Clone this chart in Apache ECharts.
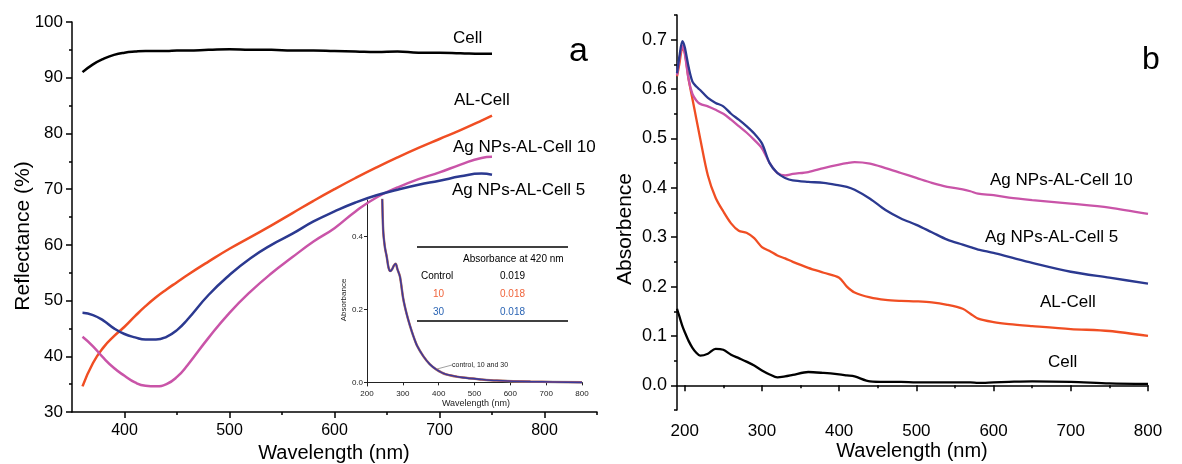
<!DOCTYPE html>
<html>
<head>
<meta charset="utf-8">
<script src="https://cdn.jsdelivr.net/npm/echarts@6/dist/echarts.min.js"></script>
<style>
  html, body { margin: 0; padding: 0; background: #fff; }
  #graph { width: 1182px; height: 464px; }
</style>
</head>
<body>
<div id="graph"></div>
<script>
// panel a - reflectance
const wlA = [360,370,380,390,400,410,420,430,440,450,460,480,500,520,540,560,580,600,620,640,660,680,700,720,740,750];
const cellA = [91.0,92.4,93.4,94.1,94.5,94.7,94.8,94.8,94.8,94.9,94.9,95.0,95.1,95.0,95.0,94.9,94.9,94.8,94.7,94.6,94.7,94.5,94.5,94.4,94.3,94.3];
const alCellA = [34.6,38.8,41.6,43.6,45.3,47.2,49.0,50.6,52.0,53.3,54.6,57.0,59.3,61.4,63.5,65.7,67.9,70.0,72.0,73.9,75.7,77.4,79.0,80.6,82.3,83.2];
const ag10A = [43.5,41.8,39.7,37.9,36.5,35.3,34.7,34.6,35.0,36.3,38.4,43.3,47.8,51.6,54.9,57.8,60.6,63.0,66.0,68.5,70.3,71.8,73.0,74.4,75.6,75.8];
const ag5A = [47.8,47.4,46.4,45.0,44.0,43.4,43.0,43.0,43.5,44.7,46.6,51.0,54.6,57.6,60.0,62.0,64.2,66.0,67.6,68.9,69.9,70.8,71.5,72.3,72.8,72.6];

// panel b - absorbance
const wlB = [190,193,197,200,205,210,215,220,230,240,250,260,270,280,290,300,310,320,330,340,360,380,400,410,420,440,460,480,500,520,540,560,570,580,600,620,650,700,750,800];
const cellB = [0.155,0.14,0.12,0.108,0.09,0.076,0.066,0.06,0.064,0.074,0.072,0.062,0.055,0.048,0.04,0.03,0.022,0.016,0.018,0.021,0.027,0.025,0.022,0.02,0.018,0.008,0.007,0.007,0.006,0.006,0.006,0.006,0.006,0.005,0.006,0.007,0.008,0.007,0.004,0.003];
const alCellB = [0.626,0.65,0.682,0.675,0.62,0.58,0.54,0.5,0.425,0.38,0.352,0.328,0.313,0.309,0.298,0.28,0.272,0.263,0.257,0.25,0.238,0.228,0.218,0.2,0.188,0.178,0.173,0.171,0.17,0.168,0.163,0.155,0.145,0.135,0.128,0.124,0.12,0.114,0.11,0.1];
const ag5B = [0.632,0.665,0.697,0.685,0.645,0.615,0.605,0.598,0.582,0.572,0.565,0.55,0.538,0.525,0.51,0.49,0.45,0.43,0.42,0.415,0.412,0.41,0.405,0.402,0.396,0.378,0.355,0.338,0.325,0.31,0.295,0.285,0.28,0.275,0.268,0.26,0.248,0.23,0.218,0.206];
const ag10B = [0.628,0.66,0.688,0.672,0.62,0.59,0.577,0.57,0.565,0.558,0.55,0.538,0.525,0.512,0.497,0.48,0.45,0.43,0.425,0.428,0.432,0.44,0.447,0.45,0.452,0.449,0.44,0.43,0.42,0.41,0.402,0.397,0.393,0.388,0.385,0.38,0.375,0.368,0.36,0.347];

// inset - absorbance of control, 10 and 30
const wlInset = [240,245,250,255,260,265,270,275,280,285,292,301,310,320,330,340,357,375,394,420,468,520,562,656,800];
const absInset = [0.62,0.42,0.37,0.345,0.315,0.305,0.31,0.32,0.325,0.31,0.29,0.23,0.19,0.155,0.125,0.1,0.072,0.05,0.035,0.022,0.013,0.008,0.005,0.002,0.0];

const ticksAx = [400,500,600,700,800];
const minorAx = [450,550,650,750,850];
const ticksBx = [200,300,400,500,600,700,800];
const minorBx = [250,350,450,550,650,750];
const ticksBy = [0,0.1,0.2,0.3,0.4,0.5,0.6,0.7];
const minorBy = [-0.05,0.05,0.15,0.25,0.35,0.45,0.55,0.65,0.75];

function zip(xs, ys) {
  return xs.map((x, i) => [x, ys[i]]);
}

const FONT = 'Arial, "Liberation Sans", sans-serif';
const black = '#000';
const orange = '#f04e23';
const blue = '#2b3990';
const pink = '#c954a8';

var chartDom = document.getElementById('graph');
var myChart = echarts.init(chartDom);
var option;

function lineStyle() {
  return { show: true, lineStyle: { color: black, width: 1.5 } };
}

function minorAxis(grid, min, max, values, horizontal) {
  return {
    type: 'value', gridIndex: grid, min: min, max: max,
    position: horizontal ? 'bottom' : 'left',
    axisLine: { show: false },
    axisTick: { show: true, customValues: values, length: 3, inside: false, lineStyle: { color: black, width: 1.5 } },
    axisLabel: { show: false },
    splitLine: { show: false }
  };
}

option = {
  animation: false,
  backgroundColor: '#fff',
  textStyle: { fontFamily: FONT },
  grid: [
    { left: 72, top: 22, width: 525, height: 390 },
    { left: 677, top: 15, width: 471, height: 395 },
    { left: 367, top: 200, width: 215, height: 186 }
  ],
  xAxis: [
    {
      type: 'value', gridIndex: 0, min: 350, max: 850,
      axisLine: lineStyle(),
      axisTick: { show: true, customValues: ticksAx, length: 6, lineStyle: { color: black, width: 1.5 } },
      axisLabel: { customValues: ticksAx, color: black, fontSize: 16, margin: 11, fontFamily: FONT },
      splitLine: { show: false }
    },
    {
      type: 'value', gridIndex: 1, min: 190, max: 800,
      axisLine: lineStyle(),
      axisTick: { show: true, customValues: ticksBx, length: 6, lineStyle: { color: black, width: 1.5 } },
      axisLabel: { customValues: ticksBx, color: black, fontSize: 17, margin: 13, fontFamily: FONT },
      splitLine: { show: false }
    },
    {
      type: 'value', gridIndex: 2, min: 200, max: 800, interval: 100,
      axisLine: { show: true, lineStyle: { color: '#222', width: 1 } },
      axisTick: { show: true, length: 3, lineStyle: { color: '#222', width: 1 } },
      axisLabel: { color: '#222', fontSize: 8, margin: 4, fontFamily: FONT },
      splitLine: { show: false }
    },
    minorAxis(0, 350, 850, minorAx, true),
    minorAxis(1, 190, 800, minorBx, true)
  ],
  yAxis: [
    {
      type: 'value', gridIndex: 0, min: 30, max: 100, interval: 10,
      axisLine: lineStyle(),
      axisTick: { show: true, length: 6, lineStyle: { color: black, width: 1.5 } },
      minorTick: { show: true, splitNumber: 2, length: 3, lineStyle: { color: black, width: 1.5 } },
      axisLabel: { color: black, fontSize: 17, margin: 9, fontFamily: FONT },
      splitLine: { show: false }
    },
    {
      type: 'value', gridIndex: 1, min: -0.05, max: 0.75,
      axisLine: lineStyle(),
      axisTick: { show: true, customValues: ticksBy, length: 6, lineStyle: { color: black, width: 1.5 } },
      axisLabel: { customValues: ticksBy, color: black, fontSize: 18, margin: 10, fontFamily: FONT,
        formatter: v => v.toFixed(1) },
      splitLine: { show: false }
    },
    {
      type: 'value', gridIndex: 2, min: -0.01, max: 0.5,
      axisLine: { show: true, lineStyle: { color: '#222', width: 1 } },
      axisTick: { show: true, customValues: [0, 0.2, 0.4], length: 3, lineStyle: { color: '#222', width: 1 } },
      axisLabel: { customValues: [0, 0.2, 0.4], color: '#222', fontSize: 8, margin: 4, fontFamily: FONT,
        formatter: v => v.toFixed(1) },
      splitLine: { show: false }
    },
    minorAxis(1, -0.05, 0.75, minorBy, false)
  ],
  series: [
    { name: 'Cell', type: 'line', xAxisIndex: 0, yAxisIndex: 0, data: zip(wlA, cellA), smooth: true, showSymbol: false, lineStyle: { color: black, width: 2.5 } },
    { name: 'AL-Cell', type: 'line', xAxisIndex: 0, yAxisIndex: 0, data: zip(wlA, alCellA), smooth: true, showSymbol: false, lineStyle: { color: orange, width: 2.5 } },
    { name: 'Ag NPs-AL-Cell 10', type: 'line', xAxisIndex: 0, yAxisIndex: 0, data: zip(wlA, ag10A), smooth: true, showSymbol: false, lineStyle: { color: pink, width: 2.5 } },
    { name: 'Ag NPs-AL-Cell 5', type: 'line', xAxisIndex: 0, yAxisIndex: 0, data: zip(wlA, ag5A), smooth: true, showSymbol: false, lineStyle: { color: blue, width: 2.5 } },

    { name: 'Cell b', type: 'line', xAxisIndex: 1, yAxisIndex: 1, data: zip(wlB, cellB), smooth: 0.3, showSymbol: false, lineStyle: { color: black, width: 2.3 } },
    { name: 'AL-Cell b', type: 'line', xAxisIndex: 1, yAxisIndex: 1, data: zip(wlB, alCellB), smooth: 0.3, showSymbol: false, lineStyle: { color: orange, width: 2.3 } },
    { name: 'Ag10 b', type: 'line', xAxisIndex: 1, yAxisIndex: 1, data: zip(wlB, ag10B), smooth: 0.3, showSymbol: false, lineStyle: { color: pink, width: 2.3 } },
    { name: 'Ag5 b', type: 'line', xAxisIndex: 1, yAxisIndex: 1, data: zip(wlB, ag5B), smooth: 0.3, showSymbol: false, lineStyle: { color: blue, width: 2.3 } },

    { name: 'control', type: 'line', xAxisIndex: 2, yAxisIndex: 2, data: zip(wlInset, absInset), smooth: 0.3, showSymbol: false, clip: true, lineStyle: { color: '#999', width: 2.5 } },
    { name: '10', type: 'line', xAxisIndex: 2, yAxisIndex: 2, data: zip(wlInset, absInset), smooth: 0.3, showSymbol: false, clip: true, lineStyle: { color: '#e8664a', width: 2 } },
    { name: '30', type: 'line', xAxisIndex: 2, yAxisIndex: 2, data: zip(wlInset, absInset), smooth: 0.3, showSymbol: false, clip: true, lineStyle: { color: '#3a3a9a', width: 1.6 } }
  ],
  graphic: [
    // axis titles
    { type: 'text', x: 23, y: 236, rotation: Math.PI / 2, style: { text: 'Reflectance (%)', font: '21px ' + FONT, fill: black, align: 'center', verticalAlign: 'middle' } },
    { type: 'text', x: 334, y: 453, style: { text: 'Wavelength (nm)', font: '20px ' + FONT, fill: black, align: 'center', verticalAlign: 'middle' } },
    { type: 'text', x: 625, y: 229, rotation: Math.PI / 2, style: { text: 'Absorbence', font: '21px ' + FONT, fill: black, align: 'center', verticalAlign: 'middle' } },
    { type: 'text', x: 912, y: 451, style: { text: 'Wavelength (nm)', font: '20px ' + FONT, fill: black, align: 'center', verticalAlign: 'middle' } },
    // panel letters
    { type: 'text', x: 569, y: 52, style: { text: 'a', font: '34px ' + FONT, fill: black, verticalAlign: 'middle' } },
    { type: 'text', x: 1142, y: 60, style: { text: 'b', font: '32px ' + FONT, fill: black, verticalAlign: 'middle' } },
    // curve labels panel a
    { type: 'text', x: 453, y: 38, style: { text: 'Cell', font: '17px ' + FONT, fill: black, verticalAlign: 'middle' } },
    { type: 'text', x: 454, y: 100, style: { text: 'AL-Cell', font: '17px ' + FONT, fill: black, verticalAlign: 'middle' } },
    { type: 'text', x: 453, y: 147, style: { text: 'Ag NPs-AL-Cell 10', font: '17px ' + FONT, fill: black, verticalAlign: 'middle' } },
    { type: 'text', x: 452, y: 190, style: { text: 'Ag NPs-AL-Cell 5', font: '17px ' + FONT, fill: black, verticalAlign: 'middle' } },
    // curve labels panel b
    { type: 'text', x: 990, y: 180, style: { text: 'Ag NPs-AL-Cell 10', font: '17px ' + FONT, fill: black, verticalAlign: 'middle' } },
    { type: 'text', x: 985, y: 237, style: { text: 'Ag NPs-AL-Cell 5', font: '17px ' + FONT, fill: black, verticalAlign: 'middle' } },
    { type: 'text', x: 1040, y: 302, style: { text: 'AL-Cell', font: '17px ' + FONT, fill: black, verticalAlign: 'middle' } },
    { type: 'text', x: 1048, y: 362, style: { text: 'Cell', font: '17px ' + FONT, fill: black, verticalAlign: 'middle' } },
    // inset axis titles
    { type: 'text', x: 344, y: 300, rotation: Math.PI / 2, style: { text: 'Absorbance', font: '8px ' + FONT, fill: '#222', align: 'center', verticalAlign: 'middle' } },
    { type: 'text', x: 476, y: 404, style: { text: 'Wavelength (nm)', font: '9px ' + FONT, fill: '#222', align: 'center', verticalAlign: 'middle' } },
    // inset table
    { type: 'line', shape: { x1: 417, y1: 247, x2: 568, y2: 247 }, style: { stroke: black, lineWidth: 1.6 } },
    { type: 'line', shape: { x1: 417, y1: 321, x2: 568, y2: 321 }, style: { stroke: black, lineWidth: 1.6 } },
    { type: 'text', x: 463, y: 259, style: { text: 'Absorbance at 420 nm', font: '10px ' + FONT, fill: black, verticalAlign: 'middle' } },
    { type: 'text', x: 421, y: 276, style: { text: 'Control', font: '10px ' + FONT, fill: black, verticalAlign: 'middle' } },
    { type: 'text', x: 500, y: 276, style: { text: '0.019', font: '10px ' + FONT, fill: black, verticalAlign: 'middle' } },
    { type: 'text', x: 433, y: 294, style: { text: '10', font: '10px ' + FONT, fill: '#f0643c', verticalAlign: 'middle' } },
    { type: 'text', x: 500, y: 294, style: { text: '0.018', font: '10px ' + FONT, fill: '#f0643c', verticalAlign: 'middle' } },
    { type: 'text', x: 433, y: 312, style: { text: '30', font: '10px ' + FONT, fill: '#2a64b4', verticalAlign: 'middle' } },
    { type: 'text', x: 500, y: 312, style: { text: '0.018', font: '10px ' + FONT, fill: '#2a64b4', verticalAlign: 'middle' } },
    // inset annotation
    { type: 'line', shape: { x1: 437, y1: 369, x2: 452, y2: 365 }, style: { stroke: '#888', lineWidth: 0.8 } },
    { type: 'text', x: 452, y: 365, style: { text: 'control, 10 and 30', font: '7px ' + FONT, fill: '#222', verticalAlign: 'middle' } }
  ]
};

myChart.setOption(option);
</script>
</body>
</html>
